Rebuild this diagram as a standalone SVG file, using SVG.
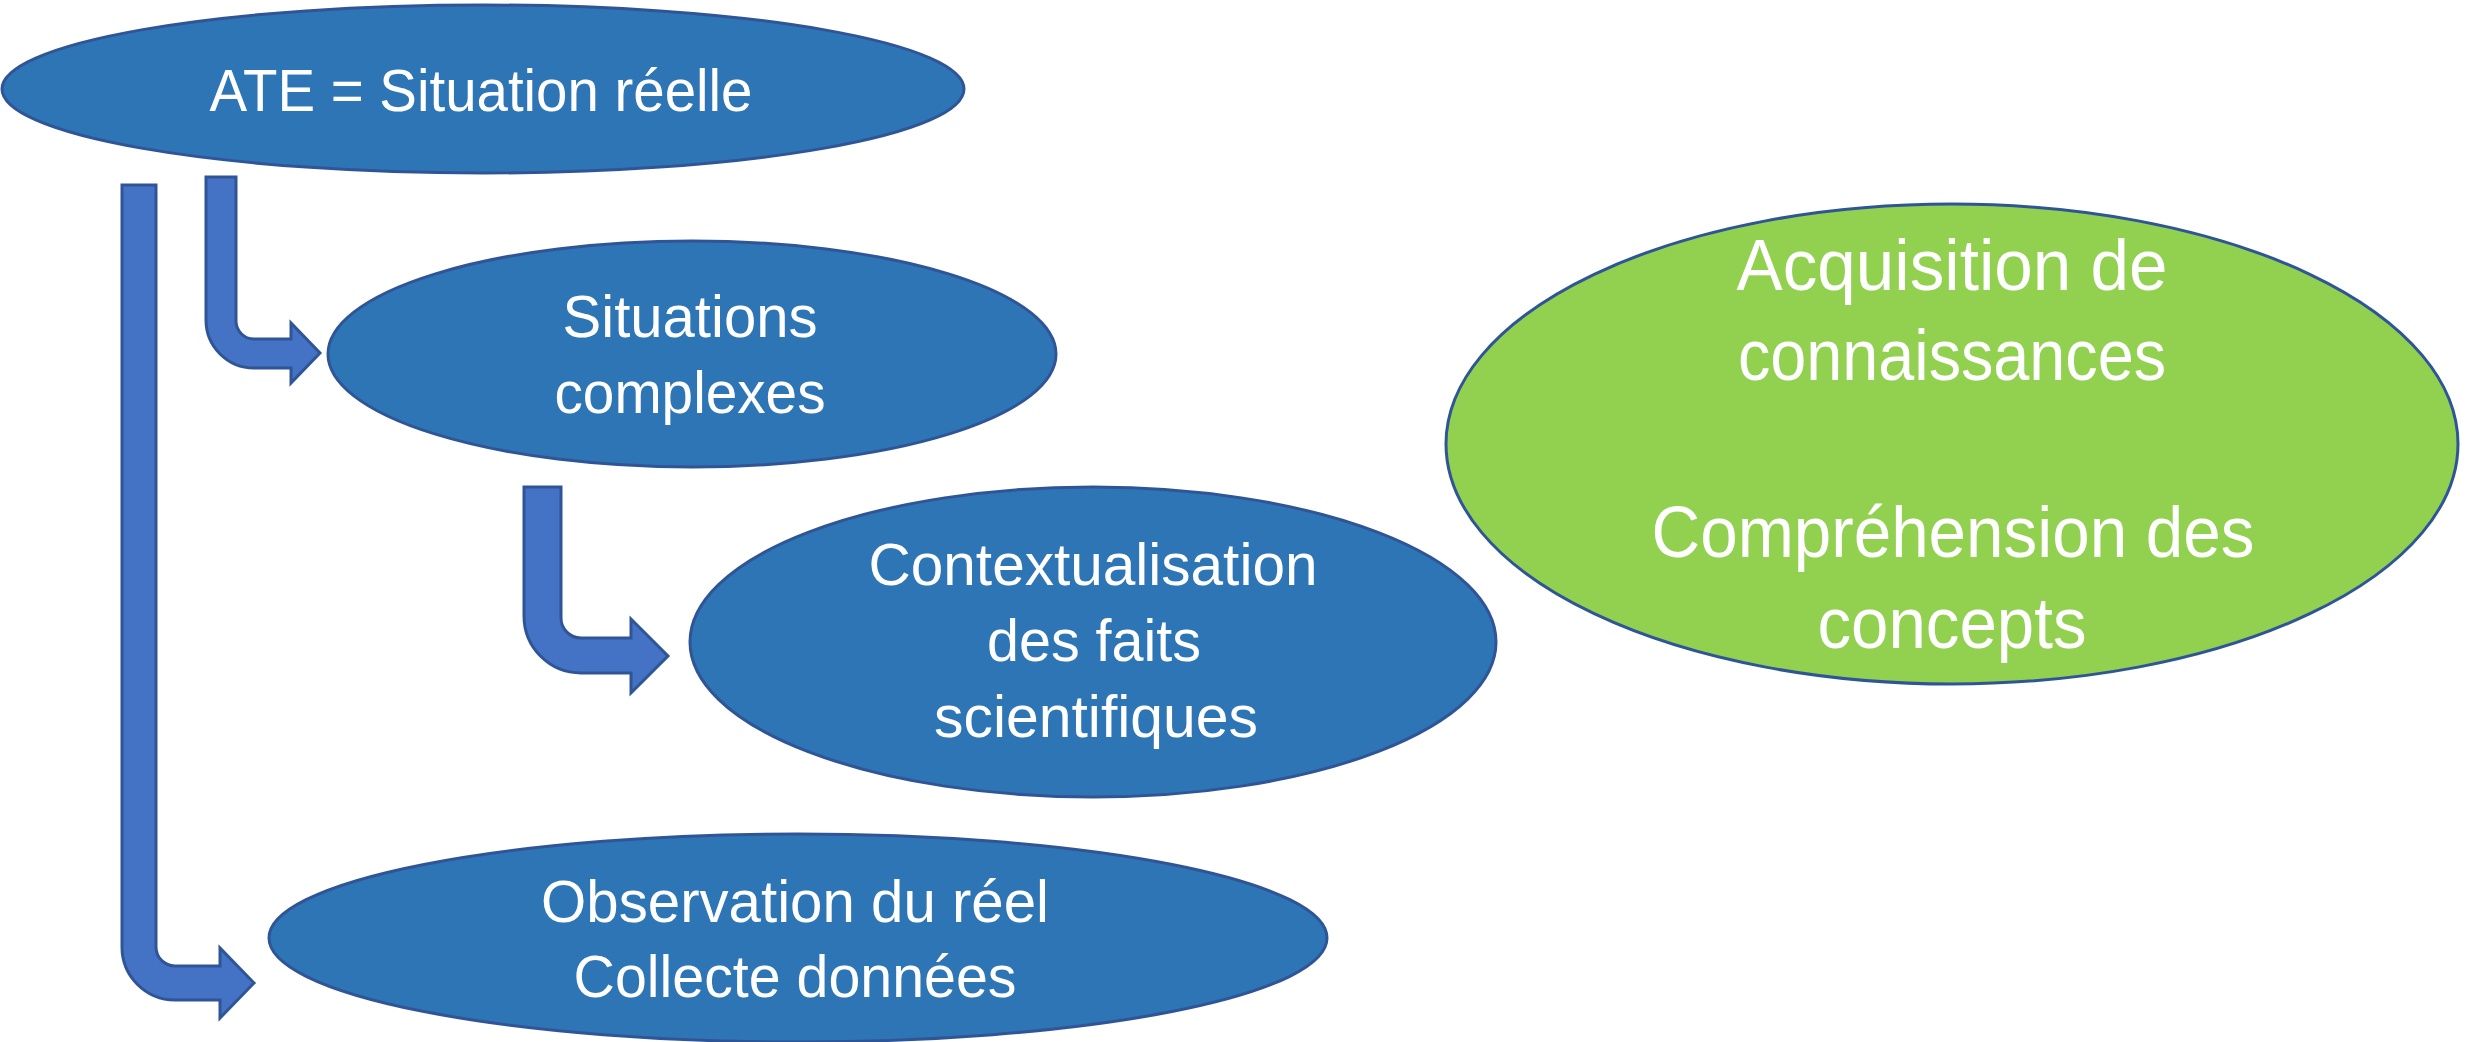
<svg xmlns="http://www.w3.org/2000/svg" width="2481" height="1042" viewBox="0 0 2481 1042">
<style>
.blue{fill:#2E75B6;stroke:#2F5597;stroke-width:3}
.green{fill:#92D050;stroke:#2F5597;stroke-width:3}
.arrow{fill:#4472C4;stroke:#2F5597;stroke-width:3;stroke-linejoin:miter}
.t{font-family:"Liberation Sans Narrow","Liberation Sans",Arial,sans-serif;fill:#FFFFFF;text-anchor:middle;font-size:60px}
.tg{font-size:73px}
</style>
<rect width="2481" height="1042" fill="#FFFFFF"/>
<g id="connectors">
<path class="arrow" d="M206,177 H236 V321 A18,18 0 0 0 254,339 H291 V323 L320,353 L291,383 V368 H254 A48,48 0 0 1 206,320 Z"/>
<path class="arrow" d="M524,487 H561 V618 A20,20 0 0 0 581,638 H631 V619 L668,656 L631,693 V673 H581 A57,57 0 0 1 524,616 Z"/>
<path class="arrow" d="M122,185 H156 V947 A19,19 0 0 0 175,966 H220 V948 L254,983 L220,1018 V1000 H175 A53,53 0 0 1 122,947 Z"/>
</g>
<g id="node-ate">
<ellipse class="blue" cx="483" cy="89" rx="481" ry="84"/>
<text class="t" x="481" y="111" textLength="543" lengthAdjust="spacingAndGlyphs">ATE = Situation réelle</text>
</g>
<g id="node-situations">
<ellipse class="blue" cx="692" cy="354" rx="364" ry="113"/>
<text class="t" x="690" y="337" textLength="255" lengthAdjust="spacingAndGlyphs">Situations</text>
<text class="t" x="690" y="413" textLength="271" lengthAdjust="spacingAndGlyphs">complexes</text>
</g>
<g id="node-acquisition">
<ellipse class="green" cx="1952" cy="444" rx="506" ry="240"/>
<text class="t tg" x="1952" y="290" textLength="431" lengthAdjust="spacingAndGlyphs">Acquisition de</text>
<text class="t tg" x="1952" y="380" textLength="428" lengthAdjust="spacingAndGlyphs">connaissances</text>
<text class="t tg" x="1953" y="557" textLength="603" lengthAdjust="spacingAndGlyphs">Compréhension des</text>
<text class="t tg" x="1952" y="648" textLength="269" lengthAdjust="spacingAndGlyphs">concepts</text>
</g>
<g id="node-contextualisation">
<ellipse class="blue" cx="1093" cy="642" rx="403" ry="155"/>
<text class="t" x="1093" y="585" textLength="449" lengthAdjust="spacingAndGlyphs">Contextualisation</text>
<text class="t" x="1094" y="661" textLength="214" lengthAdjust="spacingAndGlyphs">des faits</text>
<text class="t" x="1096" y="737" textLength="324" lengthAdjust="spacingAndGlyphs">scientifiques</text>
</g>
<g id="node-observation">
<ellipse class="blue" cx="798" cy="938" rx="529" ry="104"/>
<text class="t" x="795" y="922" textLength="508" lengthAdjust="spacingAndGlyphs">Observation du réel</text>
<text class="t" x="795" y="997" textLength="443" lengthAdjust="spacingAndGlyphs">Collecte données</text>
</g>
</svg>
